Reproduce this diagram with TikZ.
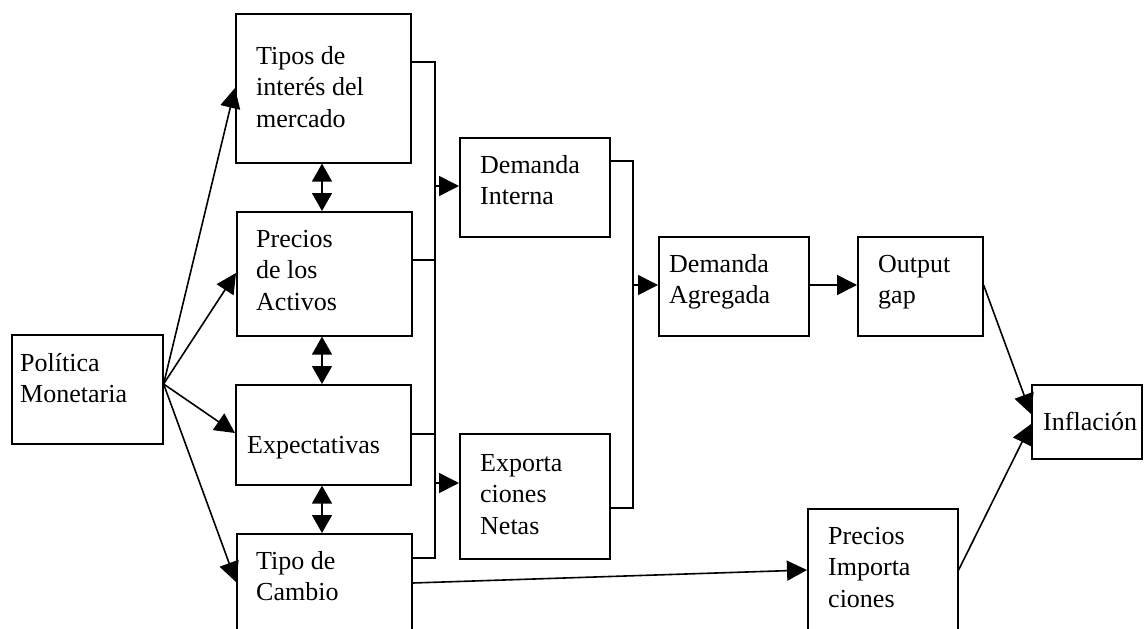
\documentclass[tikz,border=0pt]{standalone}
\usepackage{fontspec}
\setmainfont{Liberation Serif}
\usetikzlibrary{arrows.meta}
\newcommand\mlines[1]{\begin{tabular}[t]{@{}l@{}}#1\end{tabular}}
\begin{document}
\begin{tikzpicture}[x=1pt,y=-1pt,
  box/.style={draw, line width=1.6pt, inner sep=0pt, anchor=north west},
  lbl/.style={anchor=base west, inner sep=0pt, font=\fontsize{26}{31.5}\selectfont},
  conn/.style={line width=1.6pt},
  arr/.style={conn, -{Triangle[length=20pt,width=20pt]}},
  dbl/.style={conn, {Triangle[length=18pt,width=20pt]}-{Triangle[length=18pt,width=20pt]}}]
\path[use as bounding box, clip] (0,0) rectangle (1144,629);
\fill[white] (0,0) rectangle (1144,629);

% boxes
\node[box, minimum width=151pt, minimum height=109pt] (pm) at (11,334) {};
\node[box, minimum width=175pt, minimum height=149pt] (ti) at (235,13) {};
\node[box, minimum width=175pt, minimum height=124pt] (pa) at (236,211) {};
\node[box, minimum width=175pt, minimum height=100pt] (ex) at (235,384) {};
\node[box, minimum width=175pt, minimum height=130pt] (tc) at (236,533) {};
\node[box, minimum width=150pt, minimum height=99pt] (di) at (459,137) {};
\node[box, minimum width=150pt, minimum height=125pt] (en) at (459,433) {};
\node[box, minimum width=150pt, minimum height=99pt] (da) at (658,236) {};
\node[box, minimum width=125pt, minimum height=99pt] (og) at (857,236) {};
\node[box, minimum width=110pt, minimum height=74pt] (inf) at (1031,384) {};
\node[box, minimum width=150pt, minimum height=150pt] (pi) at (807,508) {};

% labels
\node[lbl] (tpm) at (20,371) {\mlines{Política\\Monetaria}};
\node[lbl] (tti) at (256,64) {\mlines{Tipos de\\interés del\\mercado}};
\node[lbl] (tpa) at (256,247) {\mlines{Precios\\de los\\Activos}};
\node[lbl] (tex) at (247,453) {Expectativas};
\node[lbl] (ttc) at (256,569) {\mlines{Tipo de\\Cambio}};
\node[lbl] (tdi) at (480,173) {\mlines{Demanda\\Interna}};
\node[lbl] (ten) at (480,471) {\mlines{Exporta\\ciones\\Netas}};
\node[lbl] (tda) at (669,272) {\mlines{Demanda\\Agregada}};
\node[lbl] (tog) at (878,272) {\mlines{Output\\gap}};
\node[lbl] (tinf) at (1043,430) {Inflación};
\node[lbl] (tpi) at (828,544) {\mlines{Precios\\Importa\\ciones}};

% Politica arrows
\coordinate (pmo) at (pm.east |- 0,384);
\draw[arr] (pmo) -- (ti.west |- 0,88);
\draw[arr] (pmo) -- (pa.west |- 0,273);
\draw[arr] (pmo) -- (ex.west |- 0,433);
\draw[arr] (pmo) -- (tc.west |- 0,582);

% double arrows
\draw[dbl] (ti.south -| 322,0) -- (pa.north -| 322,0);
\draw[dbl] (pa.south -| 322,0) -- (ex.north -| 322,0);
\draw[dbl] (ex.south -| 322,0) -- (tc.north -| 322,0);

% bus 1
\coordinate (b1a) at (435,62);
\coordinate (b1b) at (435,260);
\coordinate (b1c) at (435,434);
\coordinate (b1d) at (435,558);
\coordinate (b1e) at (435,186);
\coordinate (b1f) at (435,483);
\draw[conn] (ti.east |- b1a) -- (b1a) -- (b1d) -- (tc.east |- b1d);
\draw[conn] (pa.east |- b1b) -- (b1b);
\draw[conn] (ex.east |- b1c) -- (b1c);
\draw[arr] (b1e) -- (di.west |- b1e);
\draw[arr] (b1f) -- (en.west |- b1f);

% bus 2
\coordinate (b2a) at (633,161);
\coordinate (b2b) at (633,508);
\coordinate (b2c) at (633,285);
\draw[conn] (di.east |- b2a) -- (b2a) -- (b2b) -- (en.east |- b2b);
\draw[arr] (b2c) -- (da.west |- b2c);

% right part
\draw[arr] (da.east |- 0,285) -- (og.west |- 0,285);
\draw[arr] (og.east |- 0,285) -- (inf.west |- 0,414);
\draw[arr] (pi.east |- 0,570) -- (inf.west |- 0,424);
\draw[arr] (tc.east |- 0,583) -- (pi.west |- 0,570);
\end{tikzpicture}
\end{document}
